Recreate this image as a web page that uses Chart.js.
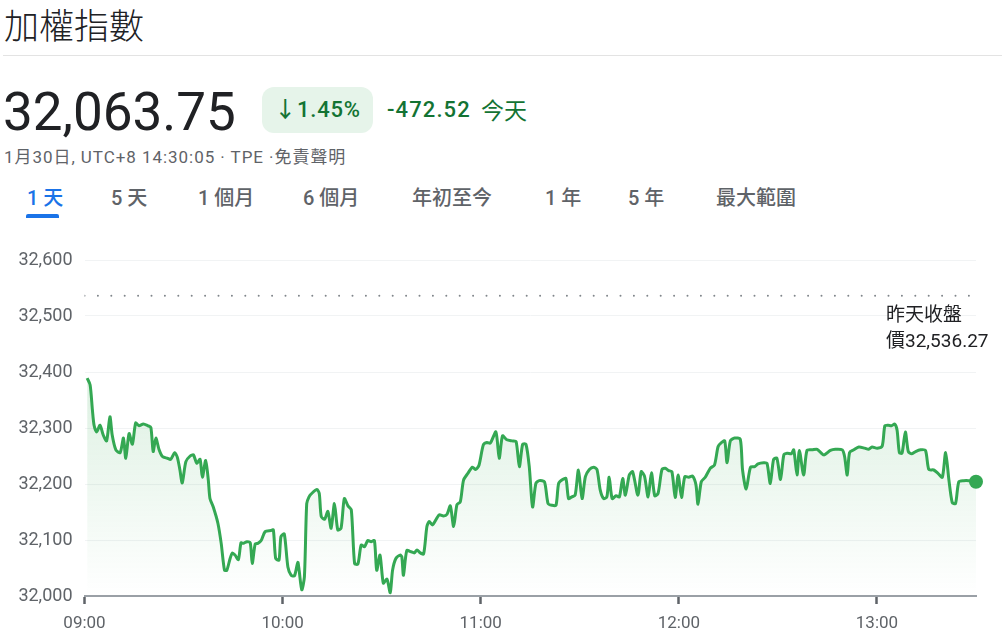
<!DOCTYPE html>
<html>
<head>
<meta charset="utf-8">
<script src="https://cdn.jsdelivr.net/npm/chart.js@4"></script>
<style>
  body { margin: 0; width: 1002px; height: 639px; background: #fff; overflow: hidden;
         font-family: Roboto, "Noto Sans CJK TC", sans-serif; color: #202124; }
  .abs { position: absolute; white-space: nowrap; }
  #title { left: 4px; top: -2px; font-size: 35px; font-family: "Noto Sans CJK TC", sans-serif; font-weight: 300; }
  #rule { left: 3px; top: 55px; width: 999px; height: 1px; background: #e3e3e3; }
  #price { left: 3px; top: 77px; font-size: 53px; line-height: 70px; }
  #badge { left: 262px; top: 87px; width: 111px; height: 46px; border-radius: 12px; background: #e6f4ea;
           color: #137333; font-size: 22px; font-weight: 500; line-height: 46px; text-align: center; letter-spacing: 0.8px; }
  #change { left: 387px; top: 95px; font-size: 22px; font-weight: 500; color: #137333; line-height: 30px; letter-spacing: 1.1px; }
  #today { left: 481px; top: 94px; font-size: 23px; color: #137333; line-height: 30px; font-family: "Noto Sans CJK TC", sans-serif; }
  #sub { left: 4px; top: 146px; font-size: 17px; color: #5f6368; line-height: 22px; letter-spacing: 0.95px; }
  .tab { top: 184px; font-size: 20px; color: #5f6368; line-height: 28px; font-weight: 500; }
  .tab.on { color: #1a73e8; }
  #bar { left: 26px; top: 214px; width: 33px; height: 4px; border-radius: 2px 2px 0 0; background: #1a73e8; }
  #note { left: 886px; top: 302px; font-size: 19px; line-height: 26px; color: #202124; }
  #wrap { position: absolute; left: 0; top: 230px; width: 1002px; height: 409px; }
</style>
</head>
<body>
<div class="abs" id="title">加權指數</div>
<div class="abs" id="rule"></div>
<div class="abs" id="price">32,063.75</div>
<div class="abs" id="badge">↓1.45%</div>
<div class="abs" id="change">-472.52</div>
<div class="abs" id="today">今天</div>
<div class="abs" id="sub">1月30日, UTC+8 14:30:05 · TPE ·免責聲明</div>
<div class="abs tab on" style="left:27px">1 天</div>
<div class="abs tab" style="left:111px">5 天</div>
<div class="abs tab" style="left:198px">1 個月</div>
<div class="abs tab" style="left:303px">6 個月</div>
<div class="abs tab" style="left:412px">年初至今</div>
<div class="abs tab" style="left:545px">1 年</div>
<div class="abs tab" style="left:628px">5 年</div>
<div class="abs tab" style="left:716px">最大範圍</div>
<div class="abs" id="bar"></div>
<div id="wrap"><canvas id="myChart"></canvas></div>
<div class="abs" id="note">昨天收盤<br>價32,536.27</div>
<script>
// data (minutes after 09:00, index value)

const minutes = [0.8,1.7,2.4,2.9,3.7,4.7,5.7,6.7,7.7,8.4,9.5,10.8,11.8,12.5,13.5,14.5,15.5,16.5,17.8,19.2,
  20.1,20.8,21.6,22.6,23.6,25.1,26.1,27.3,28.1,28.9,29.6,30.7,32.0,33.0,34.0,35.0,35.7,36.7,37.5,38.0,
  39.0,40.4,41.4,42.4,43.1,44.1,44.8,45.6,46.6,47.4,48.1,49.2,50.2,50.8,51.7,52.5,53.5,54.7,56.5,57.2,
  57.9,58.9,59.5,60.5,61.6,62.6,63.6,64.6,65.0,65.8,66.6,67.3,68.0,68.8,70.4,71.1,71.7,72.7,73.7,74.7,
  75.7,76.7,77.7,78.7,79.8,80.8,81.8,82.8,83.8,84.8,85.8,86.8,87.8,88.5,89.5,90.5,91.6,92.6,93.3,94.3,
  95.6,96.1,96.6,97.6,98.9,99.9,100.7,101.7,102.7,103.7,104.4,105.4,107.4,108.7,109.8,110.8,111.8,112.8,113.8,114.8,
  116.1,117.5,118.5,119.5,120.8,121.9,122.9,124.6,125.6,126.6,127.9,129.5,130.7,131.7,132.7,133.7,134.7,135.7,136.7,137.7,
  139.3,140.4,141.6,142.8,143.6,144.8,145.8,146.6,147.6,148.6,149.6,150.7,151.7,152.9,154.2,155.2,156.2,157.2,158.2,158.9,
  159.8,161.0,162.0,163.0,163.8,165.0,166.0,167.6,168.6,169.6,170.7,171.7,172.7,173.7,174.9,175.9,176.9,177.9,178.9,179.8,
  180.8,181.8,183.0,184.2,185.2,185.8,186.8,188.0,189.5,190.8,191.9,192.9,193.9,194.6,195.6,196.9,198.6,199.3,200.4,201.7,
  203.0,204.0,205.7,206.7,207.7,208.7,209.7,210.8,211.8,212.8,214.1,214.8,215.8,216.5,217.8,218.8,220.4,221.9,223.9,225.9,
  227.4,229.5,230.2,231.0,231.7,233.0,234.5,236.3,237.5,238.5,240.1,241.6,242.4,243.4,244.4,245.4,246.1,246.8,247.6,248.6,
  249.5,250.5,251.7,253.2,254.7,255.7,257.2,258.5,259.8,260.8,261.8,262.8,263.8,264.8,266.3,267.8,270];

const values = [32389,32377,32332,32305,32293,32305,32287,32277,32320,32287,32261,32256,32282,32246,32290,32271,32309,32304,32307,32304,
  32301,32258,32282,32261,32249,32246,32244,32256,32248,32225,32202,32240,32250,32252,32237,32244,32212,32242,32207,32174,
  32159,32130,32094,32046,32046,32067,32077,32073,32065,32095,32094,32097,32095,32058,32093,32094,32099,32115,32117,32118,
  32067,32064,32106,32111,32052,32037,32036,32060,32046,32011,32034,32165,32177,32183,32190,32183,32142,32137,32151,32121,
  32165,32118,32121,32174,32161,32154,32058,32057,32091,32088,32099,32097,32099,32046,32073,32023,32030,32006,32046,32067,
  32073,32070,32037,32081,32079,32077,32082,32077,32075,32124,32133,32127,32145,32143,32146,32161,32124,32163,32168,32207,
  32219,32230,32226,32234,32270,32274,32273,32293,32246,32286,32279,32277,32276,32231,32271,32271,32231,32159,32201,32206,
  32204,32165,32162,32162,32201,32208,32210,32174,32177,32180,32225,32174,32213,32226,32230,32226,32189,32174,32177,32212,
  32174,32179,32177,32210,32180,32216,32222,32180,32222,32214,32177,32220,32179,32183,32226,32228,32224,32222,32176,32216,
  32176,32213,32212,32214,32198,32164,32204,32212,32228,32234,32267,32274,32277,32238,32277,32282,32280,32225,32191,32230,
  32231,32236,32238,32237,32201,32244,32246,32208,32252,32255,32254,32261,32216,32260,32216,32260,32261,32262,32252,32260,
  32262,32261,32249,32216,32256,32261,32266,32264,32262,32266,32264,32268,32304,32305,32304,32307,32296,32256,32255,32293,
  32258,32254,32258,32261,32260,32226,32225,32219,32212,32256,32207,32167,32165,32204,32206,32206,32204];

const tickMinutes = [0, 60, 120, 180, 240];
const tickLabels = ["09:00", "10:00", "11:00", "12:00", "13:00"];
const prevClose = 32536.27;

// colours

const green = "#34a853";
const points = minutes.map((m, i) => ({ x: m, y: values[i] }));

function fillGradient(context) {
  const area = context.chart.chartArea;
  if (!area) return "rgba(52,168,83,0.1)";
  const g = context.chart.ctx.createLinearGradient(0, area.top, 0, area.bottom);
  g.addColorStop(0, "rgba(52,168,83,0.3)");
  g.addColorStop(0.45, "rgba(52,168,83,0.14)");
  g.addColorStop(1, "rgba(52,168,83,0)");
  return g;
}

const ctx = document.getElementById("myChart").getContext("2d");
const chart = new Chart(ctx, {
  type: "line",
  data: {
    datasets: [
      {
        data: points,
        borderColor: green,
        borderWidth: 3,
        backgroundColor: fillGradient,
        fill: "start",
        tension: 0.25,
        clip: false,
        borderJoinStyle: "round",
        pointRadius: c => (c.dataIndex === points.length - 1 ? 7 : 0),
        pointBackgroundColor: green,
        pointBorderWidth: 0,
      },
      {
        data: [{ x: 0, y: prevClose }, { x: 270, y: prevClose }],
        borderColor: "#80868b",
        borderWidth: 2,
        borderDash: [0, 13.4],
        borderCapStyle: "round",
        pointRadius: 0,
        fill: false,
      },
    ],
  },
  options: {
    responsive: true,
    maintainAspectRatio: false,
    animation: false,
    layout: { padding: { left: 0, right: 26, top: 30, bottom: 0 } },
    plugins: { legend: { display: false }, tooltip: { enabled: false } },
    scales: {
      x: {
        type: "linear",
        min: 0,
        max: 270,
        afterFit: s => { s.height = 43; },
        afterBuildTicks: s => { s.ticks = tickMinutes.map(v => ({ value: v })); },
        ticks: {
          callback: v => tickLabels[tickMinutes.indexOf(v)],
          color: "#5f6368",
          font: { family: "Roboto", size: 17 },
          padding: 10,
          maxRotation: 0,
        },
        grid: { drawOnChartArea: false, drawTicks: true, tickLength: 8, tickColor: "#5f6368", tickWidth: 2.5 },
        border: { display: true, color: "#9aa0a6", width: 2 },
      },
      y: {
        min: 32000,
        max: 32600,
        afterFit: s => { s.width = 84.5; },
        ticks: {
          stepSize: 100,
          callback: v => v.toLocaleString("en-US"),
          color: "#5f6368",
          font: { family: "Roboto", size: 18 },
          padding: 12,
        },
        grid: { color: "#f1f3f4", lineWidth: 1, drawTicks: false },
        border: { display: false },
      },
    },
  },
});
</script>
</body>
</html>
